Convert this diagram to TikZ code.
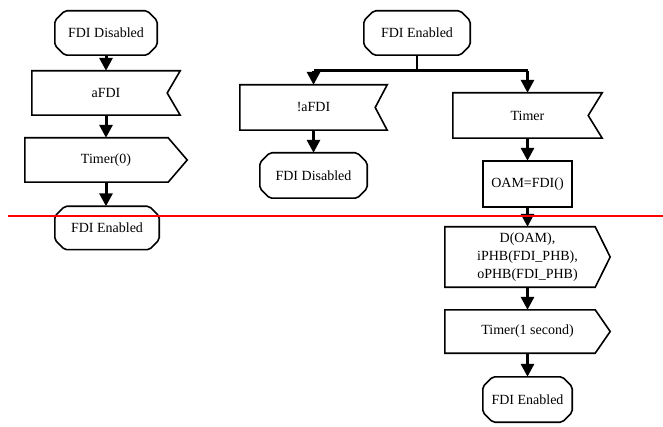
\documentclass[tikz,border=0pt]{standalone}
\usepackage{fontspec}
\setmainfont{Liberation Serif}
\usetikzlibrary{arrows.meta,calc}

% outlines drawn around plain (invisible) nodes
\newcommand\stateshape[1]{%
  \draw[outline,rounded corners=2pt]
    ($(#1.north west)+(10,0)$) -- ($(#1.north east)+(-10,0)$) --
    ($(#1.north east)+(0,10)$) -- ($(#1.south east)+(0,-10)$) --
    ($(#1.south east)+(-10,0)$) -- ($(#1.south west)+(10,0)$) --
    ($(#1.south west)+(0,-10)$) -- ($(#1.north west)+(0,10)$) -- cycle;}
\newcommand\sendshape[2]{%
  \draw[outline]
    (#1.north west) -- ($(#1.north east)+(-#2,0)$) -- (#1.east) --
    ($(#1.south east)+(-#2,0)$) -- (#1.south west) -- cycle;}
\newcommand\recvshape[2]{%
  \draw[outline]
    (#1.north west) -- (#1.north east) -- ($(#1.east)+(-#2,0)$) --
    (#1.south east) -- (#1.south west) -- cycle;}

\begin{document}
\begin{tikzpicture}[x=1pt,y=-1pt,
  box/.style={draw=none,inner sep=0pt,align=center,
              font=\fontsize{14}{18}\selectfont},
  outline/.style={line width=1.6pt,line join=miter},
  flow/.style={line width=3pt,-{Triangle[width=13pt,length=13pt]}},
  bus/.style={line width=3pt},
  ]
\useasboundingbox (0,0) rectangle (663,427);

% ---- left chart ----
\node[box,minimum width=102,minimum height=44] (s1) at (106,33) {FDI Disabled};
\node[box,minimum width=148,minimum height=44] (r1) at (106,93) {aFDI};
\node[box,minimum width=162,minimum height=44] (t0) at (106,160) {Timer(0)};
\node[box,minimum width=104,minimum height=43] (s2) at (107,228) {FDI Enabled};
\stateshape{s1}
\recvshape{r1}{13}
\sendshape{t0}{19}
\stateshape{s2}
\draw[flow] (s1.south) -- (r1.north);
\draw[flow] (r1.south) -- (t0.north);
\draw[flow] (t0.south) -- (t0.south |- s2.north);

% ---- right chart ----
\node[box,minimum width=106,minimum height=44] (s3) at (417,33) {FDI Enabled};
\node[box,minimum width=147,minimum height=45] (r2) at (313.5,107.5) {!aFDI};
\node[box,minimum width=107,minimum height=45] (s4) at (313.5,175.5) {FDI Disabled};
\node[box,minimum width=149,minimum height=45] (r3) at (527.5,115.5) {Timer};
\node[box,minimum width=89,minimum height=46] (p1) at (527.5,184) {OAM=FDI()};
\node[box,minimum width=165,minimum height=60] (t1) at (527.5,257)
  {D(OAM),\\iPHB(FDI\_PHB),\\oPHB(FDI\_PHB)};
\node[box,minimum width=165,minimum height=43] (t2) at (527.5,331.5) {Timer(1 second)};
\node[box,minimum width=89,minimum height=45] (s5) at (527.5,399.5) {FDI Enabled};
\stateshape{s3}
\recvshape{r2}{12}
\stateshape{s4}
\recvshape{r3}{14}
\draw[outline] (p1.north west) rectangle (p1.south east);
\sendshape{t1}{15}
\sendshape{t2}{15}
\stateshape{s5}

\coordinate (jn) at (417,71);
\draw[line width=1.8pt] (s3.south) -- (jn);
\draw[bus] (r2.north |- jn) -- (r3.north |- jn);
\draw[flow] (r2.north |- jn) -- (r2.north);
\draw[flow] (r3.north |- jn) -- (r3.north);
\draw[flow] (r2.south) -- (s4.north);
\draw[flow] (r3.south) -- (p1.north);
\draw[flow] (p1.south) -- (t1.north);
\draw[flow] (t1.south) -- (t2.north);
\draw[flow] (t2.south) -- (s5.north);

% ---- horizontal marker line ----
\draw[red,line width=1.5pt] (8,216) -- (663,216);
\end{tikzpicture}
\end{document}
